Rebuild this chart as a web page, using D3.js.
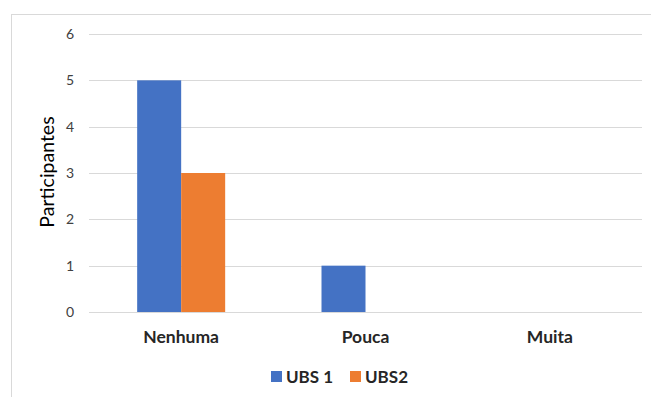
<!DOCTYPE html>
<html>
<head>
<meta charset="utf-8">
<script src="https://cdn.jsdelivr.net/npm/d3@7.9.0/dist/d3.min.js"></script>
<style>
  body { margin: 0; background: #fff; }
  svg { display: block; font-family: Lato, "Open Sans", sans-serif; }
</style>
</head>
<body>
<svg id="chart" width="651" height="397"></svg>
<script>
// Data
const categories = ["Nenhuma", "Pouca", "Muita"];
const seriesNames = ["UBS 1", "UBS2"];
const ubs1 = [5, 1, 0];
const ubs2 = [3, 0, 0];
const yTicks = [0, 1, 2, 3, 4, 5, 6];
const colors = ["#4472C4", "#ED7D31"];

const svg = d3.select("#chart");

// Outer chart border
svg.append("rect")
  .attr("x", 11.5).attr("y", 14.5)
  .attr("width", 660).attr("height", 400)
  .attr("fill", "none")
  .attr("stroke", "#d9d9d9");

// Scales
const x = d3.scaleBand().domain(categories).range([89, 642]);
const y = d3.scaleLinear().domain([0, 6]).range([312, 34]);
const barW = 44;

// Gridlines
svg.append("g")
  .selectAll("line")
  .data(yTicks)
  .join("line")
  .attr("x1", 89).attr("x2", 642)
  .attr("y1", (d) => Math.round(y(d)) + 0.5)
  .attr("y2", (d) => Math.round(y(d)) + 0.5)
  .attr("stroke", "#d9d9d9")
  .attr("stroke-width", 1);

// Y tick labels
svg.append("g")
  .selectAll("text")
  .data(yTicks)
  .join("text")
  .attr("x", 74)
  .attr("y", (d) => y(d))
  .attr("dy", "0.35em")
  .attr("text-anchor", "end")
  .attr("font-size", 14)
  .attr("fill", "#404040")
  .text((d) => d);

// Bars
const data = categories.map((c, i) => ({ cat: c, vals: [ubs1[i], ubs2[i]] }));
data.forEach((d) => {
  const cx = x(d.cat) + x.bandwidth() / 2;
  d.vals.forEach((v, s) => {
    if (v <= 0) return;
    svg.append("rect")
      .attr("x", cx - barW + s * barW)
      .attr("y", y(v))
      .attr("width", barW)
      .attr("height", y(0) - y(v))
      .attr("fill", colors[s]);
  });
});

// Category labels
svg.append("g")
  .selectAll("text")
  .data(categories)
  .join("text")
  .attr("x", (d) => x(d) + x.bandwidth() / 2)
  .attr("y", 343)
  .attr("text-anchor", "middle")
  .attr("font-size", 17.5)
  .attr("font-weight", "bold")
  .attr("fill", "#262626")
  .text((d) => d);

// Y axis title
svg.append("text")
  .attr("transform", "translate(54,172) rotate(-90)")
  .attr("text-anchor", "middle")
  .attr("font-size", 19.5)
  .attr("fill", "#000")
  .text("Participantes");

// Legend
const legendPos = [271, 350];
seriesNames.forEach((name, i) => {
  svg.append("rect")
    .attr("x", legendPos[i]).attr("y", 371)
    .attr("width", 11).attr("height", 11)
    .attr("fill", colors[i]);
  svg.append("text")
    .attr("x", legendPos[i] + 15).attr("y", 383)
    .attr("font-size", 17)
    .attr("font-weight", "bold")
    .attr("fill", "#262626")
    .text(name);
});
</script>
</body>
</html>
